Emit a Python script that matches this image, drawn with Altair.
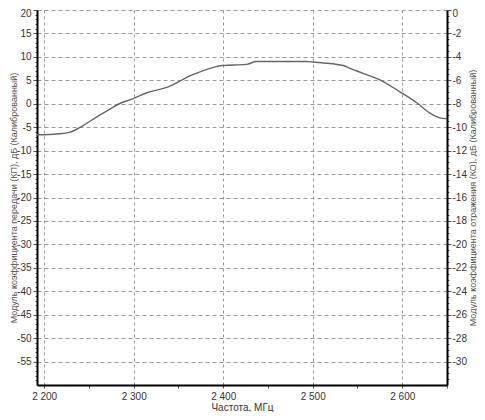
import altair as alt
import pandas as pd

# Frequency (MHz) and transmission coefficient (dB)
freq = [2192, 2200, 2211, 2228, 2243, 2258, 2273, 2284, 2299, 2314, 2337, 2366,
        2388, 2399, 2426, 2437, 2470, 2493, 2500, 2534, 2541, 2556, 2575, 2597,
        2617, 2631, 2642, 2650]
kp = [-6.6, -6.6, -6.5, -6.1, -4.7, -2.9, -1.2, 0.0, 1.05, 2.3, 3.5, 6.2,
      7.7, 8.15, 8.4, 9.0, 9.0, 9.0, 8.9, 8.15, 7.6, 6.5, 5.1, 2.6,
      0.1, -2.0, -3.0, -3.2]

x_ticks = list(range(2200, 2651, 25))
left_ticks = list(range(-59, 21, 1))
right_ticks = [v / 2 for v in range(-63, 1)]

x_title = "Частота, МГц"
left_title = "Модуль коэффициента передачи (КП), дБ (Калиброванный)"
right_title = "Модуль коэффициента отражения (КО), дБ (Калиброванный)"

df = pd.DataFrame({"freq": freq, "kp": kp})

FONT = "Liberation Sans"
GRID = "#9a9a9a"
W, H = 410, 375

x_enc = alt.X(
    "freq:Q",
    scale=alt.Scale(domain=[2192, 2650], nice=False, zero=False),
    axis=alt.Axis(
        values=x_ticks,
        labelExpr="datum.value % 100 === 0 ? replace(format(datum.value, ','), ',', ' ') : ''",
        title=x_title,
        grid=True,
        gridColor=GRID,
        gridDash=[3, 3],
        gridOpacity={"condition": {"test": "datum.value % 100 === 0", "value": 1}, "value": 0},
        domainColor="black",
        domainWidth=2,
        tickColor="#555555",
        tickSize=3,
        labelFont=FONT,
        labelFontSize=10,
        labelColor="#333333",
        labelPadding=3,
        labelFlush=False,
        titleFont=FONT,
        titleFontSize=10,
        titleFontWeight="normal",
        titleColor="#333333",
        titleX=W / 2,
        titleY=25,
        titleBaseline="alphabetic",
    ),
)

line = alt.Chart(df).mark_line(color="#666666", strokeWidth=1.4, interpolate="monotone").encode(
    x=x_enc,
    y=alt.Y(
        "kp:Q",
        scale=alt.Scale(domain=[-60, 20], nice=False, zero=False),
        axis=alt.Axis(
            orient="left",
            values=left_ticks,
            labelExpr="datum.value % 5 === 0 ? '' + datum.value : ''",
            title=left_title,
            grid=True,
            gridColor=GRID,
            gridDash=[4, 3],
            gridOpacity={"condition": {"test": "datum.value % 5 === 0", "value": 1}, "value": 0},
            domainColor="black",
            domainWidth=2,
            tickColor="#555555",
            tickSize={"condition": {"test": "datum.value % 5 === 0", "value": 4}, "value": 2},
            labelFont=FONT,
            labelFontSize=10,
            labelColor="#333333",
            labelPadding=2,
            labelFlush=True,
            labelFlushOffset=2,
            titleFont=FONT,
            titleFontSize=9,
            titleFontWeight="normal",
            titleColor="#555555",
            titleAngle=270,
            titleX=-24,
            titleY=H / 2,
            titleBaseline="middle",
            titleAlign="center",
        ),
    ),
)

right = alt.Chart(df).mark_line(opacity=0).encode(
    x=alt.X("freq:Q", scale=alt.Scale(domain=[2192, 2650], nice=False, zero=False)),
    y=alt.Y(
        "kp:Q",
        scale=alt.Scale(domain=[-32, 0], nice=False, zero=False),
        axis=alt.Axis(
            orient="right",
            values=right_ticks,
            labelExpr="datum.value % 2 === 0 ? '' + datum.value : ''",
            title=right_title,
            titleAngle=270,
            grid=False,
            domainColor="black",
            domainWidth=2,
            tickColor="#555555",
            tickSize={"condition": {"test": "datum.value % 2 === 0", "value": 4}, "value": 2},
            labelFont=FONT,
            labelFontSize=10,
            labelColor="#333333",
            labelPadding=1,
            labelFlush=True,
            labelFlushOffset=2,
            titleFont=FONT,
            titleFontSize=9,
            titleFontWeight="normal",
            titleColor="#555555",
            titleX=25,
            titleY=H / 2,
            titleBaseline="middle",
            titleAlign="center",
        ),
    ),
)

chart = (
    alt.layer(line, right)
    .resolve_scale(y="independent")
    .properties(
        width=W,
        height=H,
        autosize=alt.AutoSizeParams(type="none"),
        padding={"left": 29, "top": 2, "right": 30, "bottom": 27},
        background="white",
    )
    .configure_view(stroke=None)
)

chart.save("out.html", embed_options={"renderer": "svg", "actions": False})
